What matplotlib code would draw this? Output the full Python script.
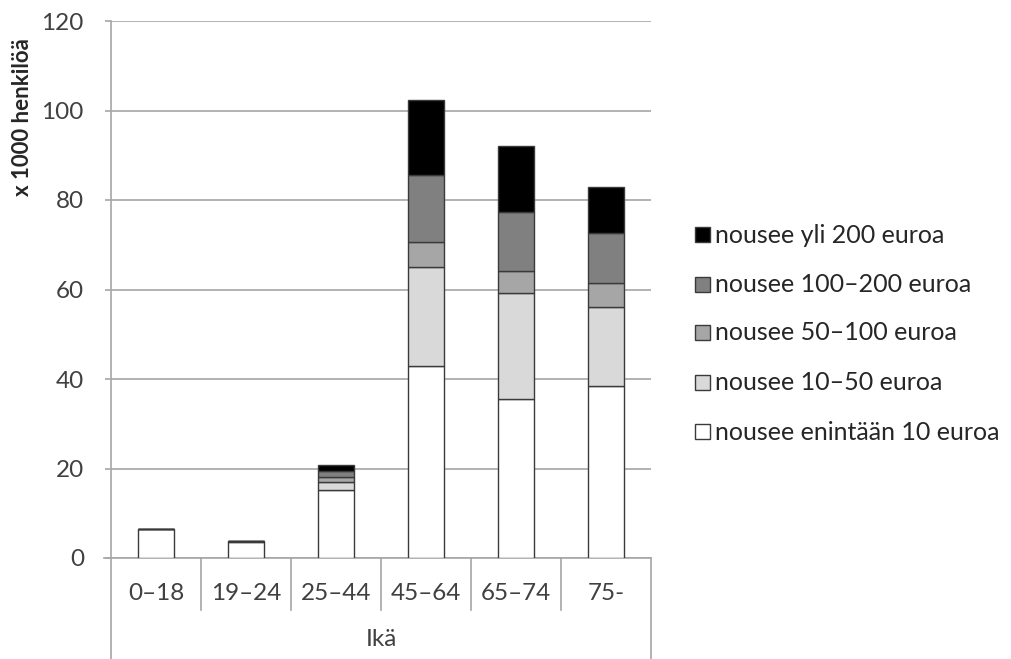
import matplotlib
matplotlib.use("Agg")
import matplotlib.pyplot as plt
from matplotlib.patches import Rectangle
from matplotlib.lines import Line2D
import numpy as np

plt.rcParams['font.family'] = ['Lato', 'DejaVu Sans']

categories = ["0–18", "19–24", "25–44", "45–64", "65–74", "75-"]
series_names = ["nousee enintään 10 euroa", "nousee 10–50 euroa", "nousee 50–100 euroa",
                "nousee 100–200 euroa", "nousee yli 200 euroa"]
enintaan_10 = [6.4, 3.6, 15.3, 42.8, 35.5, 38.4]
e10_50 = [0.0, 0.1, 1.7, 22.3, 23.8, 17.6]
e50_100 = [0.0, 0.05, 1.0, 5.6, 4.9, 5.4]
e100_200 = [0.0, 0.05, 1.4, 14.9, 13.1, 11.2]
yli_200 = [0.0, 0.1, 1.4, 16.7, 14.8, 10.2]
yticks = [0, 20, 40, 60, 80, 100, 120]
xlabel = "Ikä"
ylabel = "x 1000 henkilöä"

series = [enintaan_10, e10_50, e50_100, e100_200, yli_200]
colors = ["#ffffff", "#d9d9d9", "#a6a6a6", "#808080", "#000000"]

W, H = 1011, 659
fig = plt.figure(figsize=(W / 100, H / 100), dpi=100)
L, R, B, T = 111, 651, 558, 21
ax = fig.add_axes([L / W, 1 - B / H, (R - L) / W, (B - T) / H])

grid_c = "#a6a6a6"
x = np.arange(len(categories))
bottom = np.zeros(len(categories))
for vals, c in zip(series, colors):
    v = np.array(vals)
    ax.bar(x, v, width=0.41, bottom=bottom, color=c, edgecolor="#3a3a3a", linewidth=1.0, zorder=3)
    bottom += v

ax.set_xlim(-0.5, len(categories) - 0.5)
ax.set_ylim(0, 120)
ax.set_yticks(yticks)
ax.yaxis.grid(True, color=grid_c, linewidth=1.2, zorder=0)
ax.set_axisbelow(True)
for s in ["top", "right", "bottom"]:
    ax.spines[s].set_visible(False)
ax.spines["left"].set_color(grid_c)
ax.spines["left"].set_linewidth(1.2)
fontsz = 17.5
ax.tick_params(axis="y", length=4.5, color=grid_c, width=1.2, labelsize=fontsz,
               labelcolor="#404040", pad=15)
ax.tick_params(axis="x", length=0, labelbottom=False)

# horizontal baseline extending left slightly
ax.add_line(Line2D([-0.5 - 7 / 90, len(categories) - 0.5], [0, 0], color=grid_c, lw=1.2,
                   clip_on=False, zorder=2))
# category labels & separators (multi-level axis)
to_data_y = lambda px: -(px - B) / ((B - T) / 120.0)
for i, cat in enumerate(categories):
    ax.text(i, to_data_y(593), cat, ha="center", va="center", fontsize=fontsz,
            color="#404040", clip_on=False)
for k in range(1, len(categories)):
    ax.add_line(Line2D([k - 0.5, k - 0.5], [0, to_data_y(610)], color=grid_c, lw=1.2,
                       clip_on=False))
# outer verticals
for xx in [-0.5, len(categories) - 0.5]:
    ax.add_line(Line2D([xx, xx], [0, to_data_y(660)], color=grid_c, lw=1.2, clip_on=False))
ax.text((len(categories) - 1) / 2, to_data_y(640), xlabel, ha="center", va="center",
        fontsize=fontsz, color="#404040", clip_on=False)

fig.text(23 / W, 1 - 117 / H, ylabel, rotation=90, ha="center", va="center",
         fontsize=16, fontweight="bold", color="#262626")

# legend
ys = [235, 285, 333, 383, 432]
for name, c, yy in zip(series_names[::-1], colors[::-1], ys):
    fig.patches.append(Rectangle((695 / W, 1 - (yy + 7) / H), 15 / W, 15 / H,
                                 transform=fig.transFigure, facecolor=c,
                                 edgecolor="#3a3a3a", linewidth=1.0))
    fig.text(715 / W, 1 - yy / H, name, ha="left", va="center", fontsize=18,
             color="#262626")

fig.savefig("out.png", dpi=100, facecolor="white")
